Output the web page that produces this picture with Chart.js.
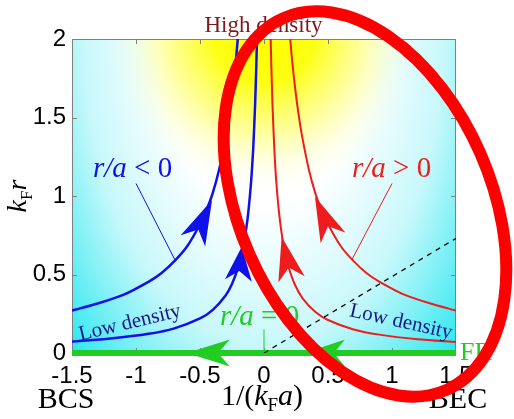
<!DOCTYPE html>
<html>
<head>
<meta charset="utf-8">
<script src="https://cdn.jsdelivr.net/npm/chart.js@4.4.1/dist/chart.umd.min.js"></script>
<style>
  html, body { margin: 0; padding: 0; background: #fff; }
  #wrap { width: 514px; height: 419px; position: relative; }
</style>
</head>
<body>
<div id="wrap"><canvas id="flowChart"></canvas></div>
<script>
// axis ticks
const xTicks = [-1.5, -1, -0.5, 0, 0.5, 1, 1.5];
const xTickLabels = ['-1.5', '-1', '-0.5', '0', '0.5', '1', '1.5'];
const yTicks = [0, 0.5, 1, 1.5, 2];
const yTickLabels = ['0', '0.5', '1', '1.5', '2'];

// flow lines r/a < 0
const blueOuterX = [-1.5, -1.3, -1.1, -0.9, -0.8, -0.7, -0.6, -0.5, -0.45, -0.4, -0.35, -0.3, -0.27, -0.24, -0.22, -0.205];
const blueOuterY = [0.27, 0.315, 0.37, 0.455, 0.51, 0.585, 0.68, 0.82, 0.91, 1.02, 1.17, 1.37, 1.52, 1.71, 1.86, 2.0];
const blueInnerX = [-1.5, -1.2, -0.9, -0.7, -0.5, -0.4, -0.3, -0.25, -0.2, -0.17, -0.14, -0.12, -0.1, -0.085, -0.07, -0.06, -0.055];
const blueInnerY = [0.073, 0.092, 0.122, 0.157, 0.22, 0.275, 0.367, 0.44, 0.55, 0.647, 0.786, 0.917, 1.1, 1.29, 1.57, 1.83, 2.0];

// flow lines r/a > 0
const redOuterX = [0.205, 0.22, 0.24, 0.27, 0.3, 0.35, 0.4, 0.45, 0.5, 0.6, 0.7, 0.8, 0.9, 1.1, 1.3, 1.5];
const redOuterY = [2.0, 1.86, 1.71, 1.52, 1.37, 1.17, 1.02, 0.91, 0.82, 0.68, 0.585, 0.51, 0.455, 0.37, 0.315, 0.27];
const redInnerX = [0.052, 0.057, 0.066, 0.08, 0.095, 0.115, 0.135, 0.16, 0.19, 0.24, 0.3, 0.4, 0.5, 0.7, 0.9, 1.2, 1.5];
const redInnerY = [2.0, 1.84, 1.59, 1.31, 1.1, 0.913, 0.778, 0.656, 0.553, 0.438, 0.35, 0.263, 0.21, 0.15, 0.117, 0.0875, 0.07];

// r/a = 0 line, dashed guide, label leaders
const greenLineX = [-1.5, 1.5];
const greenLineY = [0, 0];
const dashX = [0, 1.5];
const dashY = [0, 0.73];
const blueLeaderX = [-1.0, -0.695];
const blueLeaderY = [1.08, 0.592];
const redLeaderX = [1.0, 0.685];
const redLeaderY = [1.08, 0.592];
const greenLeaderX = [0, 0];
const greenLeaderY = [0, 0.15];

// arrowheads: tip and base (midpoint of barbs), data units
const blueArrowTips = [[-0.406, 0.975], [-0.174, 0.677]];
const blueArrowBases = [[-0.555, 0.714], [-0.2, 0.462]];
const redArrowTips = [[0.398, 0.996], [0.138, 0.741]];
const redArrowBases = [[0.539, 0.733], [0.215, 0.469]];
const greenArrowTips = [[-0.604, 0], [0.32, 0]];
const greenArrowBases = [[-0.266, 0], [0.633, 0]];

const BLUE = '#1010e8';
const RED = '#ee1c1c';
const GREEN = '#22cc22';
const serif = '"Liberation Serif", "Times New Roman", serif';
const sans = '"Liberation Sans", Arial, sans-serif';

const pts = (xs, ys) => xs.map((x, i) => ({ x: x, y: ys[i] }));

function line(xs, ys, color, width, extra) {
  return Object.assign({
    data: pts(xs, ys),
    borderColor: color,
    backgroundColor: color,
    borderWidth: width,
    showLine: true,
    pointRadius: 0,
    fill: false,
    tension: 0.25
  }, extra || {});
}

function fontFor(style, size) {
  if (style === 'i') return `italic ${size}px ${serif}`;
  if (style === 's') return `${Math.round(size * 0.62)}px ${serif}`;
  return `${size}px ${serif}`;
}

// text made of normal / italic / subscript parts
function drawRich(ctx, parts, x, y, size, color, align) {
  let total = 0;
  const widths = parts.map(([t, s]) => {
    ctx.font = fontFor(s, size);
    const w = ctx.measureText(t).width;
    total += w;
    return w;
  });
  let cx = align === 'center' ? x - total / 2 : x;
  ctx.fillStyle = color;
  ctx.textAlign = 'left';
  ctx.textBaseline = 'alphabetic';
  parts.forEach(([t, s], i) => {
    ctx.font = fontFor(s, size);
    ctx.fillText(t, cx, s === 's' ? y + size * 0.2 : y);
    cx += widths[i];
  });
}

function drawArrow(ctx, tip, base, color) {
  const dx = tip.x - base.x, dy = tip.y - base.y;
  const len = Math.hypot(dx, dy);
  const ux = dx / len, uy = dy / len;
  const px = -uy, py = ux;
  const hw = 13.5;
  const nx = tip.x - ux * len * 0.72, ny = tip.y - uy * len * 0.72;
  ctx.fillStyle = color;
  ctx.beginPath();
  ctx.moveTo(tip.x, tip.y);
  ctx.lineTo(base.x + px * hw, base.y + py * hw);
  ctx.lineTo(nx, ny);
  ctx.lineTo(base.x - px * hw, base.y - py * hw);
  ctx.closePath();
  ctx.fill();
}

// yellow / cyan shading of the plot area
const backdrop = {
  id: 'backdrop',
  beforeDraw(chart) {
    const { ctx, chartArea: a } = chart;
    const cx = chart.scales.x.getPixelForValue(0);
    ctx.save();
    ctx.beginPath();
    ctx.rect(a.left, a.top, a.right - a.left, a.bottom - a.top);
    ctx.clip();

    ctx.save();
    ctx.translate(cx, a.top - 9);
    ctx.scale(1, 1.75);
    let g = ctx.createRadialGradient(0, 0, 0, 0, 0, 290);
    g.addColorStop(0, '#ffffff');
    g.addColorStop(0.35, '#ffffff');
    g.addColorStop(0.62, '#c8f8fb');
    g.addColorStop(1, '#00e3ec');
    ctx.fillStyle = g;
    ctx.fillRect(-400, -50, 800, 400);
    ctx.restore();

    ctx.save();
    ctx.translate(cx, a.top - 12);
    ctx.scale(1, 1.08);
    g = ctx.createRadialGradient(0, 0, 0, 0, 0, 160);
    g.addColorStop(0, 'rgba(255,255,0,1)');
    g.addColorStop(0.32, 'rgba(255,255,0,0.93)');
    g.addColorStop(0.6, 'rgba(255,255,40,0.48)');
    g.addColorStop(0.82, 'rgba(255,255,120,0.14)');
    g.addColorStop(1, 'rgba(255,255,255,0)');
    ctx.fillStyle = g;
    ctx.fillRect(-250, -50, 500, 300);
    ctx.restore();

    ctx.restore();
  },
  beforeDatasetsDraw(chart) {
    const { ctx, chartArea: a, scales } = chart;
    ctx.save();
    ctx.strokeStyle = '#808080';
    ctx.lineWidth = 1;
    ctx.strokeRect(a.left + 0.5, a.top + 0.5, a.right - a.left - 1, a.bottom - a.top);
    ctx.beginPath();
    xTicks.slice(1, -1).forEach(v => {
      const px = Math.round(scales.x.getPixelForValue(v)) + 0.5;
      ctx.moveTo(px, a.bottom); ctx.lineTo(px, a.bottom - 5);
      ctx.moveTo(px, a.top); ctx.lineTo(px, a.top + 5);
    });
    yTicks.slice(1, -1).forEach(v => {
      const py = Math.round(scales.y.getPixelForValue(v)) + 0.5;
      ctx.moveTo(a.left, py); ctx.lineTo(a.left + 5, py);
      ctx.moveTo(a.right, py); ctx.lineTo(a.right - 5, py);
    });
    ctx.stroke();
    ctx.restore();
  }
};

// arrowheads and in-plot labels
const annotations = {
  id: 'annotations',
  afterDatasetsDraw(chart) {
    const { ctx, scales } = chart;
    const toPx = p => ({ x: scales.x.getPixelForValue(p[0]), y: scales.y.getPixelForValue(p[1]) });
    ctx.save();
    blueArrowTips.forEach((t, i) => drawArrow(ctx, toPx(t), toPx(blueArrowBases[i]), BLUE));
    redArrowTips.forEach((t, i) => drawArrow(ctx, toPx(t), toPx(redArrowBases[i]), RED));
    greenArrowTips.forEach((t, i) => drawArrow(ctx, toPx(t), toPx(greenArrowBases[i]), GREEN));

    drawRich(ctx, [['r/a', 'i'], [' < 0', 'n']], 93, 177, 29, BLUE, 'left');
    drawRich(ctx, [['r/a', 'i'], [' > 0', 'n']], 352, 177, 29, RED, 'left');
    drawRich(ctx, [['r/a', 'i'], [' = 0', 'n']], 220, 325, 29, GREEN, 'left');

    ctx.fillStyle = '#14148a';
    ctx.font = `21px ${serif}`;
    ctx.textAlign = 'center';
    ctx.textBaseline = 'middle';
    ctx.save();
    ctx.translate(130, 323);
    ctx.rotate(-13.5 * Math.PI / 180);
    ctx.fillText('Low density', 0, 0);
    ctx.restore();
    ctx.save();
    ctx.translate(401, 322);
    ctx.rotate(12.5 * Math.PI / 180);
    ctx.fillText('Low density', 0, 0);
    ctx.restore();
    ctx.restore();
  },
  afterDraw(chart) {
    const { ctx } = chart;
    ctx.save();
    ctx.fillStyle = '#7b1a1a';
    ctx.font = `23px ${serif}`;
    ctx.textAlign = 'center';
    ctx.textBaseline = 'alphabetic';
    ctx.fillText('High density', 263.5, 32);

    drawRich(ctx, [['FR', 'n']], 460, 360, 26, GREEN, 'left');
    drawRich(ctx, [['BCS', 'n']], 66, 408, 30, '#000', 'center');
    drawRich(ctx, [['BEC', 'n']], 458, 408, 30, '#000', 'center');
    drawRich(ctx, [['1/(', 'n'], ['k', 'i'], ['F', 's'], ['a', 'i'], [')', 'n']], 262, 405, 30, '#000', 'center');

    ctx.save();
    ctx.translate(26, 196);
    ctx.rotate(-Math.PI / 2);
    drawRich(ctx, [['k', 'i'], ['F', 's'], ['r', 'i']], 0, 0, 28, '#000', 'center');
    ctx.restore();

    // red highlight ellipse
    ctx.strokeStyle = '#ff0000';
    ctx.lineWidth = 12;
    ctx.beginPath();
    ctx.ellipse(365, 204, 203, 126, 66.3 * Math.PI / 180, 0, Math.PI * 2);
    ctx.stroke();
    ctx.restore();
  }
};

const chartElement = document.getElementById('flowChart');
const flowChart = new Chart(chartElement, {
  type: 'scatter',
  data: {
    datasets: [
      line(dashX, dashY, '#000', 1.3, { borderDash: [5, 5], tension: 0 }),
      line(blueLeaderX, blueLeaderY, BLUE, 1, { tension: 0 }),
      line(redLeaderX, redLeaderY, RED, 1, { tension: 0 }),
      line(greenLeaderX, greenLeaderY, GREEN, 1, { tension: 0 }),
      line(blueOuterX, blueOuterY, BLUE, 2.5),
      line(blueInnerX, blueInnerY, BLUE, 2.5),
      line(redOuterX, redOuterY, RED, 2),
      line(redInnerX, redInnerY, RED, 2),
      line(greenLineX, greenLineY, GREEN, 6, { tension: 0, clip: 6 })
    ]
  },
  options: {
    animation: false,
    responsive: true,
    maintainAspectRatio: false,
    layout: {
      padding: { top: 39, right: 58, bottom: 0, left: 0 }
    },
    scales: {
      x: {
        type: 'linear',
        min: -1.5,
        max: 1.5,
        grid: { display: false, drawTicks: false },
        border: { display: false },
        afterBuildTicks: s => { s.ticks = xTicks.map(v => ({ value: v })); },
        afterFit: s => { s.height = 66; },
        ticks: {
          padding: 9,
          color: '#000',
          autoSkip: false,
          maxRotation: 0,
          font: { family: sans, size: 24 },
          callback: (v, i) => xTickLabels[i]
        }
      },
      y: {
        type: 'linear',
        min: 0,
        max: 2,
        grid: { display: false, drawTicks: false },
        border: { display: false },
        afterBuildTicks: s => { s.ticks = yTicks.map(v => ({ value: v })); },
        afterFit: s => { s.width = 72; },
        ticks: {
          padding: 6,
          color: '#000',
          autoSkip: false,
          font: { family: sans, size: 24 },
          callback: (v, i) => yTickLabels[i]
        }
      }
    },
    plugins: {
      legend: { display: false },
      tooltip: { enabled: false }
    }
  },
  plugins: [backdrop, annotations]
});
</script>
</body>
</html>
